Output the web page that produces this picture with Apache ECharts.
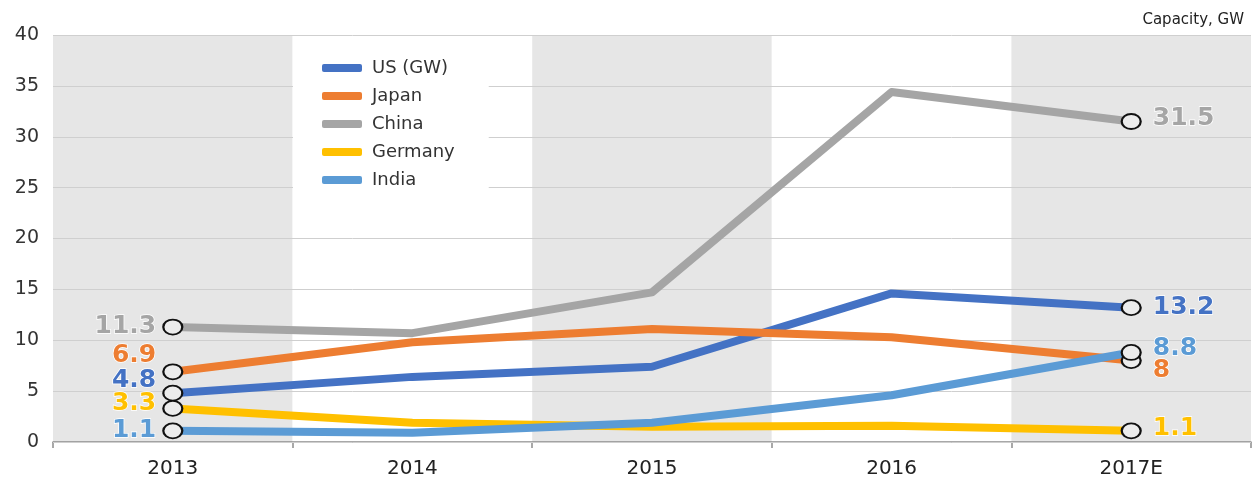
<!DOCTYPE html>
<html>
<head>
<meta charset="utf-8">
<script src="https://cdn.jsdelivr.net/npm/echarts@6/dist/echarts.min.js"></script>
<style>
  html, body { margin: 0; padding: 0; background: #fff; }
  #chart { width: 1258px; height: 481px; }
</style>
</head>
<body>
<div id="chart"></div>
<script>
// Solar capacity additions by country, GW
const years = ['2013', '2014', '2015', '2016', '2017E'];
const usValues = [4.8, 6.4, 7.4, 14.6, 13.2];
const japanValues = [6.9, 9.8, 11.1, 10.3, 8];
const chinaValues = [11.3, 10.7, 14.7, 34.4, 31.5];
const germanyValues = [3.3, 1.9, 1.5, 1.6, 1.1];
const indiaValues = [1.1, 0.9, 1.9, 4.6, 8.8];
const yTicks = [0, 5, 10, 15, 20, 25, 30, 35, 40];

// Series look: name, colour, and vertical nudges for the end labels [first, last]
const seriesDefs = [
  { name: 'US (GW)', values: usValues,      color: '#4472C4', nudge: [-13, 0] },
  { name: 'Japan',   values: japanValues,   color: '#ED7D31', nudge: [-16, 10] },
  { name: 'China',   values: chinaValues,   color: '#A5A5A5', nudge: [-1, -3] },
  { name: 'Germany', values: germanyValues, color: '#FFC000', nudge: [-5, -2] },
  { name: 'India',   values: indiaValues,   color: '#5B9BD5', nudge: [0, -4] }
];

const labelFont = {
  fontFamily: 'DejaVu Sans',
  fontWeight: 'bold',
  fontSize: 25,
  textBorderColor: '#ffffff',
  textBorderWidth: 1.5
};

function buildData(def) {
  const last = def.values.length - 1;
  return def.values.map(function (v, i) {
    if (i !== 0 && i !== last) {
      return { value: v, symbol: 'none', label: { show: false } };
    }
    const first = i === 0;
    return {
      value: v,
      symbol: 'circle',
      symbolSize: [19, 15],
      itemStyle: { color: '#ececec', borderColor: '#111', borderWidth: 2 },
      label: Object.assign({
        show: true,
        position: first ? 'left' : 'right',
        distance: first ? 6 : 11,
        offset: [0, first ? def.nudge[0] : def.nudge[1]],
        color: def.color,
        formatter: function (p) { return String(p.value); }
      }, labelFont)
    };
  });
}

const chart = echarts.init(document.getElementById('chart'), null, { renderer: 'canvas' });

chart.setOption({
  animation: false,
  backgroundColor: '#ffffff',
  title: {
    text: 'Capacity, GW',
    right: 9,
    top: 8,
    textStyle: { fontFamily: 'DejaVu Sans', fontSize: 15, fontWeight: 'normal', color: '#222' }
  },
  legend: {
    orient: 'vertical',
    left: 293,
    top: 44,
    padding: [15, 34, 15, 29],
    backgroundColor: '#ffffff',
    icon: 'roundRect',
    itemWidth: 40,
    itemHeight: 8,
    itemGap: 10,
    textStyle: { fontFamily: 'DejaVu Sans', fontSize: 18, color: '#333', padding: [0, 0, 0, 5] },
    data: seriesDefs.map(function (d) { return d.name; })
  },
  grid: { left: 53, right: 7, top: 35, bottom: 39 },
  xAxis: {
    type: 'category',
    data: years,
    boundaryGap: true,
    z: 0,
    axisLine: { show: true, lineStyle: { color: '#8c8c8c', width: 1.5 } },
    axisTick: { show: true, length: 6, lineStyle: { color: '#8c8c8c', width: 1.5 } },
    axisLabel: { margin: 17, fontFamily: 'DejaVu Sans', fontSize: 20, color: '#222' },
    splitArea: { show: true, areaStyle: { color: ['#e6e6e6', '#ffffff'] } }
  },
  yAxis: {
    type: 'value',
    min: yTicks[0],
    max: yTicks[yTicks.length - 1],
    interval: yTicks[1] - yTicks[0],
    z: 1,
    axisLine: { show: false },
    axisTick: { show: false },
    axisLabel: { margin: 14, fontFamily: 'DejaVu Sans', fontSize: 19, color: '#333' },
    splitLine: { show: true, lineStyle: { color: '#cfcfcf', width: 1 } }
  },
  series: seriesDefs.map(function (d) {
    return {
      name: d.name,
      type: 'line',
      data: buildData(d),
      smooth: false,
      color: d.color,
      itemStyle: { color: d.color },
      lineStyle: { color: d.color, width: 8, cap: 'round', join: 'round' },
      emphasis: { disabled: true },
      z: 3
    };
  })
});
</script>
</body>
</html>
